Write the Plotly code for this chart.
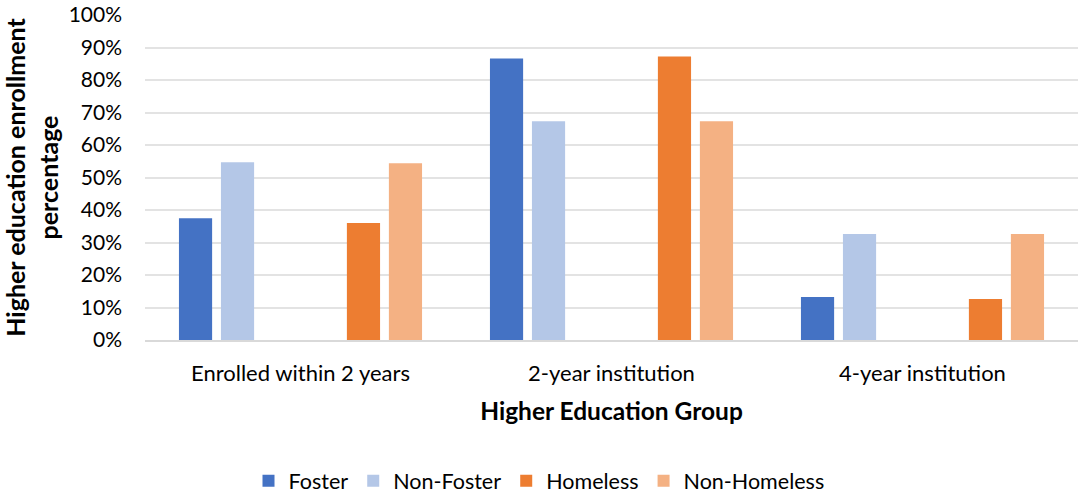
import plotly.graph_objects as go

categories = ["Enrolled within 2 years", "2-year institution", "4-year institution"]
foster = [0.375, 0.866, 0.132]
non_foster = [0.547, 0.673, 0.326]
homeless = [0.360, 0.872, 0.126]
non_homeless = [0.544, 0.673, 0.326]
spacer = [0, 0, 0]

FONT = "Lato"
fig = go.Figure()
series = [
    ("Foster", foster, "#4472C4", True),
    ("Non-Foster", non_foster, "#B4C7E7", True),
    ("gap1", spacer, "rgba(0,0,0,0)", False),
    ("gap2", spacer, "rgba(0,0,0,0)", False),
    ("Homeless", homeless, "#ED7D31", True),
    ("Non-Homeless", non_homeless, "#F4B183", True),
]
for name, vals, color, show in series:
    fig.add_trace(go.Bar(
        x=categories, y=vals, name=name, marker_color=color,
        marker_line_width=0, showlegend=show,
        hoverinfo="x+y+name" if show else "skip",
    ))

fig.update_layout(
    barmode="group", bargap=0.19, bargroupgap=0.21,
    width=1078, height=493,
    margin=dict(l=145, r=0, t=15, b=153, autoexpand=False),
    plot_bgcolor="white", paper_bgcolor="white",
    font=dict(family=FONT, size=22, color="#000000"),
    legend=dict(orientation="h", x=0.5, xanchor="center", xref="container",
                y=-0.433, yanchor="middle", font=dict(size=21.5),
                traceorder="normal", itemwidth=30),
)
fig.update_yaxes(
    range=[0, 1], tickformat=".0%", dtick=0.1,
    gridcolor="#E3E3E3", gridwidth=1.5, zeroline=False,
    showline=False, ticks="", ticklabelstandoff=22, automargin=False,
    tickfont=dict(size=21, color="#000000"),
    title=dict(text="<b>Higher education enrollment<br>percentage</b>",
               font=dict(size=25), standoff=4),
)
fig.update_xaxes(
    showline=True, linecolor="#D9D9D9", linewidth=1.5, automargin=False,
    ticks="", ticklabelstandoff=13, tickfont=dict(size=22, color="#000000"),
    title=dict(text="<b>Higher Education Group</b>", font=dict(size=24.5), standoff=18),
)
fig.write_html("out.html", config={"displayModeBar": False},
               post_script="document.body.style.margin='0';")
